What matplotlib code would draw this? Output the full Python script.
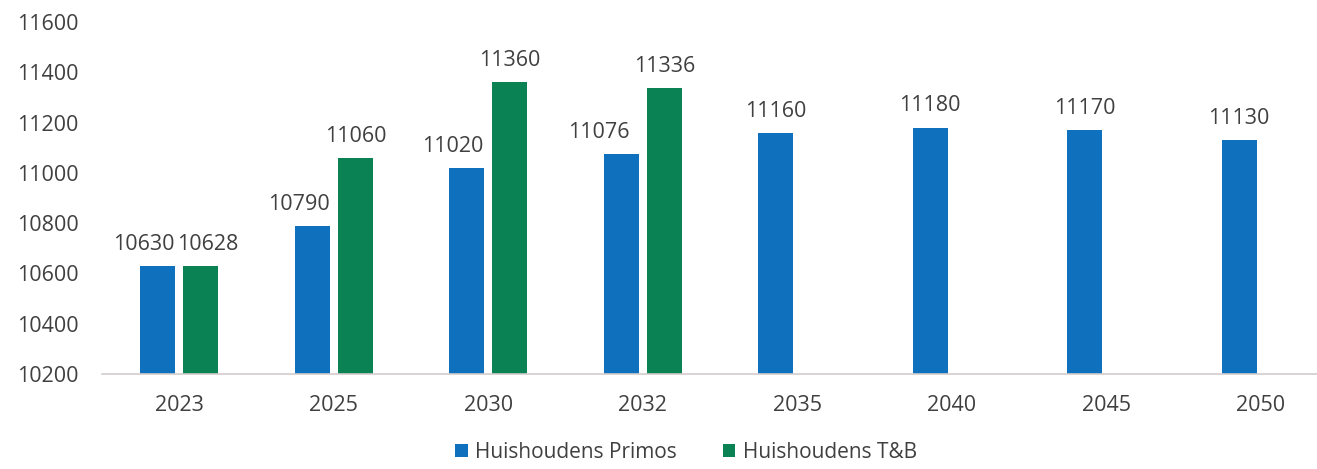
import matplotlib.pyplot as plt
import numpy as np

plt.rcParams["font.family"] = ["Open Sans", "DejaVu Sans"]

years = ["2023", "2025", "2030", "2032", "2035", "2040", "2045", "2050"]
primos = [10630, 10790, 11020, 11076, 11160, 11180, 11170, 11130]
tb = [10628, 11060, 11360, 11336]

blue = "#0f70bd"
green = "#0a8254"
text_col = "#404040"

fig = plt.figure(figsize=(13.17, 4.69), dpi=100)
ax = fig.add_axes([102 / 1317, 1 - 374 / 469, 1236 / 1317, 352 / 469])

x = np.arange(len(years))
width = 0.225
off = 0.14

bars_p = ax.bar(x - off, primos, width, color=blue, label="Huishoudens Primos")
bars_t = ax.bar(x[:len(tb)] + off, tb, width, color=green,
                label="Huishoudens T&B")

# label nudges (pixels) so paired labels don't collide
p_shift = [-14, -13, -14, -22, 0, 0, 0, 0]
t_shift = [7, 0, 0, 0]

for b, v, s in zip(bars_p, primos, p_shift):
    ax.annotate(f"{v}", (b.get_x() + b.get_width() / 2, v),
                xytext=(s * 0.72, 8), textcoords="offset points",
                ha="center", va="bottom", fontsize=15.5, color=text_col)
for b, v, s in zip(bars_t, tb, t_shift):
    ax.annotate(f"{v}", (b.get_x() + b.get_width() / 2, v),
                xytext=(s * 0.72, 8), textcoords="offset points",
                ha="center", va="bottom", fontsize=15.5, color=text_col)

ax.set_xlim(-0.5, len(years) - 0.5)
ax.set_ylim(10200, 11600)
ax.set_yticks(np.arange(10200, 11601, 200))
ax.set_xticks(x)
ax.set_xticklabels(years)

for side in ["top", "right", "left"]:
    ax.spines[side].set_visible(False)
ax.spines["bottom"].set_color("#d4cccc")
ax.spines["bottom"].set_linewidth(1.2)
ax.tick_params(axis="both", length=0, labelsize=15.5, colors=text_col)
ax.tick_params(axis="y", pad=17)
ax.tick_params(axis="x", pad=15)

fig.legend(loc="center", bbox_to_anchor=(686 / 1317, 1 - 452 / 469),
           ncol=2, frameon=False, fontsize=15, handlelength=0.6,
           handleheight=0.6, handletextpad=0.35, columnspacing=2.2,
           labelcolor=text_col)

fig.savefig("out.png", dpi=100)
